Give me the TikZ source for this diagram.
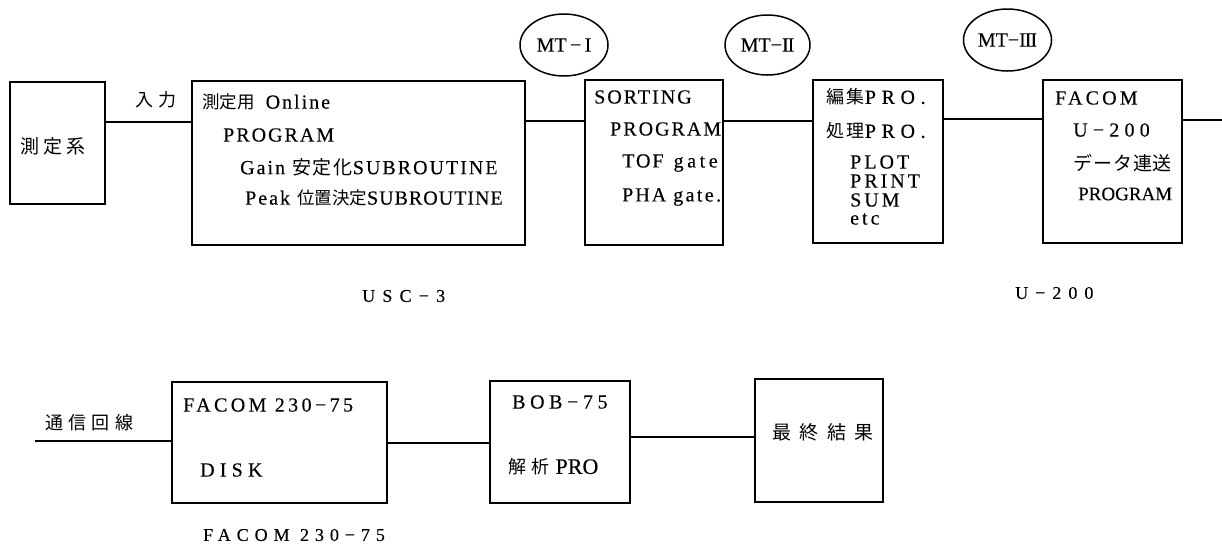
\documentclass[tikz,border=0pt]{standalone}
\usepackage{fontspec}
\setmainfont{Liberation Serif}[LetterSpace=10,FakeBold=0.25]
\newfontfamily\tightf{Liberation Serif}[FakeBold=0.25]
\newfontfamily\jpf{Noto Sans CJK JP}[LetterSpace=10]
\newcommand\jp[1]{{\jpf #1}}
\newcommand\tg[1]{{\tightf #1}}
% size, letterspace, text
\newcommand\jpz[3]{{\jpf\fontsize{#1}{20}\selectfont\addfontfeatures{LetterSpace=#2}#3}}
\newcommand\lz[3]{{\fontsize{#1}{20}\selectfont\addfontfeatures{LetterSpace=#2}#3}}
\usetikzlibrary{calc,shapes.geometric}
\tikzset{
  blk/.style={draw, line width=2pt, inner sep=0pt},
  ln/.style={line width=2pt},
  txt/.style={anchor=west, inner sep=0pt, font=\fontsize{20}{20}\selectfont},
  mt/.style={draw, ellipse, line width=1.5pt, inner sep=0pt, minimum width=88pt, minimum height=62pt, font=\tightf\fontsize{20}{20}\selectfont}
}
\begin{document}
\begin{tikzpicture}[x=1pt,y=-1pt]
\useasboundingbox (0,0) rectangle (1222,547);
% boxes
\node[blk, minimum width=95pt, minimum height=122pt] (sys) at (57.5,143) {};
\node[blk, minimum width=333pt, minimum height=164pt] (online) at (358.5,163) {};
\node[blk, minimum width=138pt, minimum height=165pt] (sort) at (654,162.5) {};
\node[blk, minimum width=130pt, minimum height=163pt] (edit) at (878,161.5) {};
\node[blk, minimum width=139pt, minimum height=163pt] (facomu) at (1112.5,161.5) {};
\node[blk, minimum width=215pt, minimum height=121pt] (f230) at (279.5,442.5) {};
\node[blk, minimum width=140pt, minimum height=122pt] (bob) at (560,442) {};
\node[blk, minimum width=128pt, minimum height=123pt] (final) at (819,440.5) {};
% ellipses
\node[mt] (mt1) at (564,45) {MT\,−\,I};
\node[mt, minimum width=85pt, minimum height=60pt] (mt2) at (767.5,45) {MT−I\kern-1ptI};
\node[mt] (mt3) at (1007.5,40) {MT−I\kern-1ptI\kern-1ptI};
% connectors
\draw[ln] ($(sys.north east)!0.33!(sys.south east)$) coordinate (c1) -- (c1 -| online.west);
\draw[ln] ($(online.north east)!0.244!(online.south east)$) coordinate (c2) -- (c2 -| sort.west);
\draw[ln] ($(sort.north east)!0.25!(sort.south east)$) coordinate (c3) -- (c3 -| edit.west);
\draw[ln] ($(edit.north east)!0.245!(edit.south east)$) coordinate (c4) -- (c4 -| facomu.west);
\coordinate (rend) at (1222,120);
\draw[ln] (rend -| facomu.east) -- (rend);
\coordinate (lstart) at (35,441);
\draw[ln] (lstart) -- (lstart -| f230.west);
\draw[ln] (f230.east) -- (f230.east -| bob.west);
\draw[ln] ($(bob.north east)!0.46!(bob.south east)$) coordinate (c6) -- (c6 -| final.west);
% texts
\node[txt] (t-sys) at (20,146) {\jpz{19}{22}{測定系}};
\node[txt] (t-in) at (135,100) {\jpz{18}{30}{入力}};
\node[txt] (t-o1) at (202,102) {\jpz{17.5}{0}{測定用}\hspace{11pt}Online};
\node[txt] (t-o2) at (223,135) {PROGRAM};
\node[txt] (t-o3) at (240,167) {Gain \jpz{19}{10}{安定化}SUBROUTINE};
\node[txt] (t-o4) at (245,198) {Peak \jpz{17.5}{0}{位置決定}\lz{20}{5}{SUBROUTINE}};
\node[txt] (t-s1) at (594,97) {SORTING};
\node[txt] (t-s2) at (610,129) {PROGRAM};
\node[txt] (t-s3) at (622,163) {TOF\hspace{10pt}\lz{20}{18}{gate}};
\node[txt] (t-s4) at (622,197) {PHA \lz{20}{12}{gate.}};
\node[txt] (t-e1) at (826,97) {\jpz{18}{15}{編集}\lz{20}{28}{PRO.}};
\node[txt] (t-e2) at (826,131) {\jpz{18}{15}{処理}\lz{20}{28}{PRO.}};
\node[txt] (t-e3) at (850,162) {\lz{20}{15}{PLOT}};
\node[txt] (t-e4) at (850,181) {\lz{20}{15}{PRINT}};
\node[txt] (t-e5) at (850,200) {\lz{20}{15}{SUM}};
\node[txt] (t-e6) at (850,219) {\lz{20}{15}{etc}};
\node[txt] (t-f1) at (1055,98) {\lz{20}{16}{FACOM}};
\node[txt] (t-f2) at (1073,130) {\lz{20}{26}{U−200}};
\node[txt] (t-f3) at (1073,163) {\jpz{19}{5}{データ連送}};
\node[txt] (t-f4) at (1078,194) {\tg{\fontsize{19}{20}\selectfont PROGRAM}};
\node[txt] (l-usc) at (362,296) {\lz{18}{40}{USC−3}};
\node[txt] (l-u200) at (1015,293) {\lz{18}{39}{U−200}};
\node[txt] (t-tsu) at (45,423) {\jpz{18}{30}{通信回線}};
\node[txt] (t-g1) at (183,405) {\lz{20}{17}{FACOM 230−75}};
\node[txt] (t-g2) at (200,470) {\lz{20}{26}{DISK}};
\node[txt] (t-b1) at (512,402) {\lz{20}{23}{BOB−75}};
\node[txt] (t-b2) at (508,467) {\jpz{18}{30}{解析}\hspace{6pt}\tg{\fontsize{22}{20}\selectfont PRO}};
\node[txt] (t-fin) at (772,432) {\jpz{19}{45}{最終結果}};
\node[txt] (l-f230) at (203,535) {\lz{18}{33}{FACOM 230−75}};
\end{tikzpicture}
\end{document}
